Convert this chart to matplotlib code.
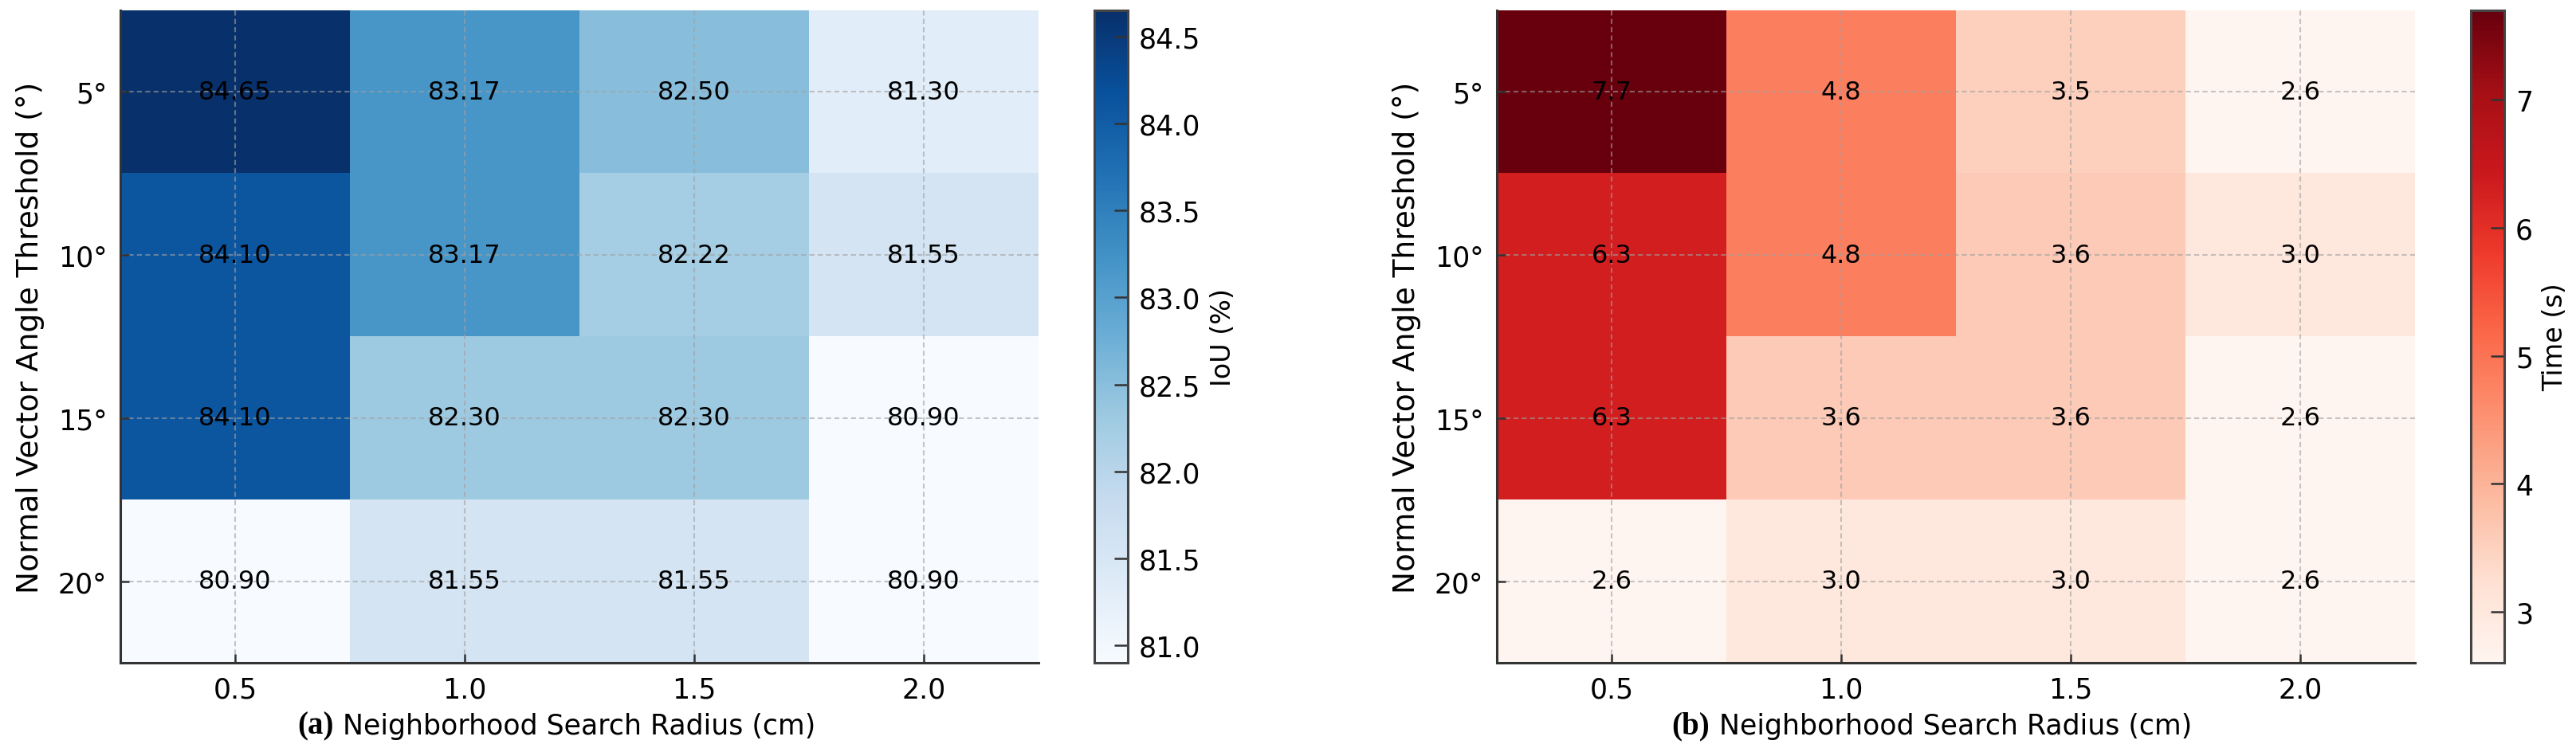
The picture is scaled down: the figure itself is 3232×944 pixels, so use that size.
import numpy as np
import matplotlib
matplotlib.use("Agg")
import matplotlib.pyplot as plt

# ---- data ----
radii = [0.5, 1.0, 1.5, 2.0]
radius_labels = ["0.5", "1.0", "1.5", "2.0"]
angle_labels = ["5°", "10°", "15°", "20°"]

iou = [
    [84.65, 83.17, 82.50, 81.30],
    [84.10, 83.17, 82.22, 81.55],
    [84.10, 82.30, 82.30, 80.90],
    [80.90, 81.55, 81.55, 80.90],
]
time_s = [
    [7.7, 4.8, 3.5, 2.6],
    [6.3, 4.8, 3.6, 3.0],
    [6.3, 3.6, 3.6, 2.6],
    [2.6, 3.0, 3.0, 2.6],
]
iou_ticks = [81.0, 81.5, 82.0, 82.5, 83.0, 83.5, 84.0, 84.5]
time_ticks = [3, 4, 5, 6, 7]

W, H = 3232, 945
fig = plt.figure(figsize=(W / 100, H / 100), dpi=100)
plt.rcParams['font.family'] = ['DejaVu Sans']

def box(x0, x1, y0=14, y1=833):
    return [x0 / W, 1 - y1 / H, (x1 - x0) / W, (y1 - y0) / H]

ax1 = fig.add_axes(box(151, 1303))
cax1 = fig.add_axes(box(1373, 1415))
ax2 = fig.add_axes(box(1878, 3030))
cax2 = fig.add_axes(box(3100, 3142))

spine_c = '#333333'

def panel(ax, cax, data, cmap, fmt, cbar_label, cticks, tag):
    arr = np.array(data, dtype=float)
    step = radii[1] - radii[0]
    ext = [radii[0] - step / 2, radii[-1] + step / 2, len(angle_labels) - 0.5, -0.5]
    im = ax.imshow(arr, cmap=cmap, extent=ext, aspect='auto',
                   interpolation='nearest', vmin=arr.min(), vmax=arr.max())
    for i in range(arr.shape[0]):
        for j in range(arr.shape[1]):
            ax.text(radii[j], i, fmt.format(arr[i, j]), ha='center', va='center',
                    fontsize=23, color='black')
    ax.set_xticks(radii)
    ax.set_xticklabels(radius_labels)
    ax.set_yticks(range(len(angle_labels)))
    ax.set_yticklabels(angle_labels)
    ax.tick_params(direction='in', length=8, width=1.8, colors=spine_c,
                   labelcolor='black', labelsize=25, pad=12)
    ax.grid(True, linestyle=(0, (3, 2)), color='#a0a0a0', alpha=0.6, linewidth=1.5)
    for s in ['top', 'right']:
        ax.spines[s].set_visible(False)
    for s in ['left', 'bottom']:
        ax.spines[s].set_color(spine_c)
        ax.spines[s].set_linewidth(2.2)
    ax.set_ylabel("Normal Vector Angle Threshold (°)", fontsize=27, labelpad=12)
    ax.set_xlabel("Neighborhood Search Radius (cm)", fontsize=25, labelpad=8)
    ax.annotate(tag, xy=(0, 0.5), xycoords=ax.xaxis.label, xytext=(-12, 0),
                textcoords='offset pixels', ha='right', va='center',
                fontsize=28, fontweight='bold', family=['Liberation Serif', 'DejaVu Serif'])
    cb = fig.colorbar(im, cax=cax)
    cb.set_ticks(cticks)
    cb.ax.tick_params(direction='in', length=12, width=1.8, colors=spine_c,
                      labelcolor='black', labelsize=25, pad=10)
    cb.outline.set_linewidth(2.2)
    cb.outline.set_edgecolor('#444444')
    cb.set_label(cbar_label, fontsize=24, labelpad=8)

panel(ax1, cax1, iou, 'Blues', "{:.2f}", "IoU (%)", iou_ticks, "(a)")
panel(ax2, cax2, time_s, 'Reds', "{:.1f}", "Time (s)", time_ticks, "(b)")

fig.savefig("out.png", dpi=100, facecolor='white')
